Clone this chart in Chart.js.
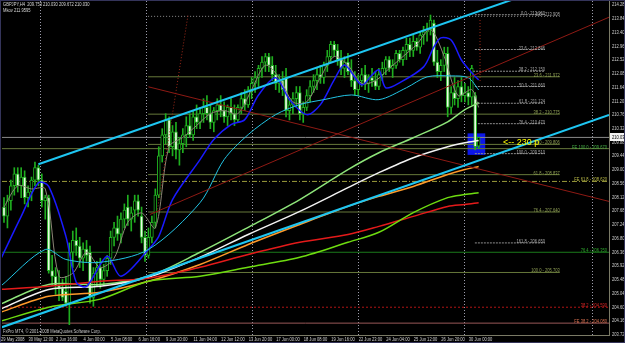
<!DOCTYPE html>
<html>
<head>
<meta charset="utf-8">
<title>GBPJPY,H4</title>
<script src="https://cdn.jsdelivr.net/npm/chart.js@4.4.1/dist/chart.umd.min.js"></script>
<style>
  html, body { margin: 0; padding: 0; background: #000; overflow: hidden; }
  canvas { display: block; }
</style>
</head>
<body>
<canvas id="chart" width="625" height="343"></canvas>
<script>
// H4 candles, bar 0 = 29 May 2008
const opens = [
  207.80, 207.51, 208.00, 208.48, 208.86, 208.48, 208.76, 208.10, 208.28, 208.66,
  209.06, 208.66, 208.00, 208.10, 205.76, 205.58, 205.28, 205.20, 205.10, 204.72,
  206.35, 206.73, 206.55, 206.16, 206.45, 206.35, 204.90, 205.68, 205.86, 205.48,
  205.76, 206.16, 206.83, 207.13, 206.93, 207.41, 207.80, 207.41, 207.70, 208.00,
  207.51, 206.83, 206.25, 206.83, 207.31, 208.18, 209.44, 210.11, 210.59, 209.73,
  210.21, 209.63, 209.83, 210.11, 210.41, 210.11, 210.69, 210.51, 210.79, 210.99,
  210.79, 210.51, 210.89, 211.07, 210.89, 210.69, 210.99, 210.79, 210.59, 210.99,
  211.27, 211.07, 211.56, 211.76, 211.95, 212.24, 212.44, 212.62, 212.34, 212.04,
  211.76, 211.85, 211.95, 210.89, 211.07, 211.27, 211.47, 210.79, 210.99, 211.37,
  211.66, 211.85, 212.04, 211.95, 212.34, 212.62, 213.01, 212.82, 212.52, 212.24,
  212.44, 212.14, 211.85, 211.56, 211.85, 212.04, 211.76, 211.95, 211.85, 211.66,
  212.04, 212.24, 212.52, 212.24, 212.34, 212.72, 212.52, 212.82, 213.01, 212.82,
  213.11, 212.92, 213.31, 213.41, 213.49, 213.69, 212.44, 212.14, 212.34, 212.72,
  210.99, 211.47, 211.27, 211.66, 211.37, 211.47, 211.32, 211.37, 209.753
];
const highs = [
  208.10, 208.18, 208.66, 209.06, 209.06, 209.06, 208.96, 208.48, 208.76, 209.24,
  209.14, 208.86, 208.18, 208.18, 206.25, 205.86, 205.76, 205.48, 205.58, 206.65,
  207.03, 207.13, 206.83, 206.65, 206.73, 206.55, 205.86, 206.06, 206.16, 205.96,
  206.25, 207.03, 207.31, 207.51, 207.61, 207.90, 208.18, 207.80, 208.18, 208.18,
  207.80, 207.03, 207.13, 207.51, 208.38, 209.73, 210.31, 210.79, 210.69, 210.41,
  210.51, 210.03, 210.31, 210.69, 210.79, 210.89, 211.07, 210.99, 211.27, 211.37,
  211.07, 210.99, 211.27, 211.37, 211.17, 211.07, 211.27, 211.07, 211.07, 211.47,
  211.56, 211.66, 211.95, 212.14, 212.34, 212.62, 212.72, 212.72, 212.62, 212.34,
  212.04, 212.14, 212.24, 211.27, 211.47, 211.66, 211.66, 211.17, 211.56, 211.85,
  212.04, 212.24, 212.34, 212.44, 212.82, 213.11, 213.11, 213.01, 212.82, 212.62,
  212.72, 212.52, 212.14, 212.04, 212.24, 212.34, 212.04, 212.24, 212.14, 212.24,
  212.44, 212.62, 212.62, 212.52, 212.82, 212.82, 212.92, 213.21, 213.21, 213.31,
  213.21, 213.41, 213.59, 213.69, 213.95, 213.79, 212.82, 212.52, 212.92, 212.92,
  211.66, 211.95, 211.85, 211.95, 211.76, 211.66, 212.34, 211.47, 210.030
];
const lows = [
  207.31, 207.13, 207.70, 208.18, 208.28, 208.10, 207.90, 207.80, 208.00, 208.48,
  208.48, 207.80, 207.41, 205.68, 205.28, 205.00, 204.80, 204.80, 204.62, 204.03,
  205.86, 206.25, 205.86, 205.76, 206.06, 204.72, 204.62, 205.28, 205.20, 205.28,
  205.58, 205.96, 206.55, 206.73, 206.65, 207.13, 207.21, 207.03, 207.31, 207.51,
  206.65, 206.06, 206.16, 206.65, 207.13, 208.10, 209.24, 209.83, 209.54, 209.44,
  209.34, 209.14, 209.54, 209.73, 210.03, 209.93, 210.31, 210.31, 210.51, 210.59,
  210.31, 210.21, 210.59, 210.69, 210.51, 210.41, 210.59, 210.41, 210.51, 210.79,
  210.89, 210.99, 211.27, 211.47, 211.66, 211.95, 212.14, 212.14, 211.85, 211.56,
  211.47, 211.37, 210.69, 210.59, 210.79, 210.99, 210.59, 210.51, 210.89, 211.17,
  211.47, 211.56, 211.76, 211.76, 212.14, 212.44, 212.62, 212.34, 212.04, 211.95,
  212.04, 211.66, 211.37, 211.37, 211.66, 211.56, 211.47, 211.66, 211.56, 211.56,
  211.85, 212.04, 212.14, 211.95, 212.24, 212.44, 212.34, 212.52, 212.62, 212.62,
  212.82, 212.72, 213.01, 213.11, 213.31, 212.34, 211.95, 211.85, 212.14, 210.69,
  210.79, 211.07, 210.99, 211.17, 211.17, 211.07, 211.07, 209.63, 209.672
];
const closes = [
  207.51, 208.00, 208.48, 208.86, 208.48, 208.76, 208.10, 208.28, 208.66, 209.06,
  208.66, 208.00, 208.10, 205.76, 205.58, 205.28, 205.20, 204.90, 204.72, 206.35,
  206.73, 206.55, 206.16, 206.45, 206.25, 204.90, 205.68, 205.86, 205.48, 205.76,
  206.16, 206.83, 207.13, 206.93, 207.41, 207.70, 207.41, 207.61, 208.00, 207.70,
  206.83, 206.25, 206.83, 207.31, 208.18, 209.44, 210.11, 210.59, 209.73, 210.21,
  209.63, 209.83, 210.11, 210.41, 210.11, 210.69, 210.51, 210.79, 210.99, 210.79,
  210.51, 210.89, 211.07, 210.89, 210.69, 210.99, 210.79, 210.59, 210.99, 211.27,
  211.07, 211.56, 211.76, 211.95, 212.24, 212.44, 212.62, 212.34, 212.04, 211.76,
  211.85, 211.56, 210.89, 211.07, 211.27, 211.47, 210.79, 210.99, 211.37, 211.66,
  211.85, 212.04, 211.95, 212.34, 212.62, 213.01, 212.82, 212.52, 212.24, 212.44,
  212.14, 211.85, 211.56, 211.85, 212.04, 211.76, 211.95, 211.85, 211.66, 212.04,
  212.24, 212.52, 212.24, 212.34, 212.72, 212.52, 212.82, 213.01, 212.82, 213.11,
  212.92, 213.31, 213.41, 213.49, 213.79, 212.44, 212.14, 212.34, 212.72, 210.99,
  211.47, 211.27, 211.66, 211.37, 211.47, 211.32, 212.24, 209.73, 210.030
];

// time axis labels, one every 8 bars
const timeLabels = ["29 May 2008", "30 May 12:00", "2 Jun 16:00", "4 Jun 00:00", "5 Jun 08:00",
  "6 Jun 16:00", "9 Jun 20:00", "11 Jun 04:00", "12 Jun 12:00", "13 Jun 20:00", "17 Jun 00:00",
  "18 Jun 08:00", "19 Jun 16:00", "22 Jun 23:00", "24 Jun 04:00", "25 Jun 12:00",
  "26 Jun 20:00", "30 Jun 00:00"];
const priceTicks = [214.28, 213.84, 213.40, 212.96, 212.52, 212.08, 211.64, 211.20, 210.76,
  210.32, 209.88, 209.44, 209.00, 208.56, 208.12, 207.68, 207.24, 206.80, 206.36, 205.92,
  205.48, 205.04, 204.60, 204.16, 203.72];

// moving averages (sampled at bar positions)
const slowBars = [-1, 13, 28, 42, 57, 71, 86, 100, 109, 119, 129, 134, 138];
const maWhite = [204.53, 205.16, 205.26, 205.55, 206.19, 206.92, 207.66, 208.42, 208.90, 209.38, 209.73, 209.86, 209.93];
const maLight = [204.69, 205.32, 205.32, 205.58, 206.35, 207.15, 208.04, 209.00, 209.54, 210.02, 210.53, 210.92, 211.14];
const maRed = [205.16, 205.26, 205.42, 205.52, 205.87, 206.28, 206.67, 206.92, 207.18, 207.50, 207.82, 207.88, 207.94];
const maOrange = [204.43, 204.94, 205.07, 205.42, 205.96, 206.60, 207.24, 207.82, 208.14, 208.46, 208.84, 209.00, 209.10];
const maGreen = [204.14, 204.59, 204.85, 205.42, 205.58, 205.87, 206.19, 206.67, 206.99, 207.62, 208.10, 208.20, 208.26];

const cyanBars = [-1, 12, 18, 28, 42, 57, 64, 71, 79, 86, 93, 101, 109, 117, 123, 130, 135, 138];
const maCyan = [205.26, 206.44, 206.12, 206.03, 206.44, 207.94, 209.32, 210.12, 210.76, 211.08, 211.24, 211.39, 211.24, 211.62, 211.97, 212.00, 211.94, 211.55];

const blueBars = [-1, 5, 10, 13, 18, 21, 24, 30, 34, 42, 45, 49, 57, 61, 66, 70, 74, 79, 83, 88, 92, 96, 99, 104, 107, 109, 111, 115, 122, 125, 127, 130, 133, 136, 138];
const maBlue = [206.12, 207.50, 208.58, 208.46, 206.86, 205.39, 205.26, 206.22, 205.58, 206.44, 206.86, 208.04, 209.32, 209.96, 210.44, 210.60, 211.39, 211.94, 211.24, 210.76, 211.08, 211.87, 212.35, 211.71, 212.03, 212.19, 211.62, 211.78, 212.29, 212.93, 213.22, 213.15, 212.51, 212.10, 211.87];

const grayBars = [0, 4, 8, 12, 16, 20, 24, 28, 32, 36, 40, 44, 48, 52, 56, 60, 64, 68, 72, 76, 80, 84, 88, 92, 96, 100, 104, 108, 112, 116, 120, 124, 128, 132, 136, 138];
const maGray = [207.80, 208.48, 208.38, 208.38, 205.58, 205.68, 206.35, 205.86, 206.16, 207.31, 207.61, 207.13, 209.73, 210.03, 210.41, 210.79, 210.89, 210.79, 211.56, 212.34, 211.95, 211.17, 211.17, 211.95, 212.62, 212.34, 211.76, 211.85, 212.24, 212.62, 213.01, 213.49, 212.62, 211.37, 211.56, 210.99];

// drawn objects: [bar, price] end points
const channelTop = [[10, 209.17], [148.5, 214.47]];
const channelBottom = [[-0.6, 203.95], [175.9, 210.75]];
const redFall = [[42, 211.65], [175.9, 207.98]];
const redRise = [[42.4, 207.56], [175.9, 213.88]];
const redSteep = [[44.5, 207.63], [53.5, 213.95]];
const redVertical = [[138.4, 213.79], [138.4, 211.78]];

// fibonacci retracements
const shortFibLevels = ["0.0", "23.6", "38.2", "50.0", "61.8", "76.4", "100.0", "161.8"];
const shortFibPrices = [213.960, 212.846, 212.150, 211.660, 211.124, 210.470, 209.510, 206.650];
const shortFibFrom = 136.9, shortFibTo = 157.3;
const longFibLevels = ["0.0", "23.6", "38.2", "50.0", "61.8", "76.4", "100.0"];
const longFibPrices = [213.908, 211.972, 210.775, 209.806, 208.837, 207.640, 205.703];
const longFibFrom = 41.9, longFibTo = 161.6;

// full width levels
const levelPrices = [210.030, 209.670, 208.620, 206.350, 204.590, 204.080];
const levelNames = ["", "FE 100.0", "FE 61.8", "76.4", "38.2", "FE 38.2"];

// highlighted zone and note
const boxBar = 137.35, boxLow = 209.48, boxHigh = 210.15;
const noteBar = 145.1, notePrice = 209.86, noteText = "<-- 230 p";

const gridBars = [10.5, 41.3, 72.1, 102.9, 133.7, 170.9];
const xMin = -0.58, xMax = 175.9;

const FONT = '"Liberation Sans", Arial, sans-serif';
const CANDLE_GREEN = '#1fae1f';

function pts(list) {
  return list.map(p => ({ x: p[0], y: p[1] }));
}

function lineSet(points, color, width, dash, order, tension) {
  return {
    type: 'line', data: points, borderColor: color, borderWidth: width,
    borderDash: dash || [], pointRadius: 0, fill: false, order: order,
    tension: tension || 0
  };
}

function maSet(bars, vals, color, width, order) {
  return lineSet(bars.map((b, k) => ({ x: b, y: vals[k] })), color, width, [], order, 0.3);
}

function smallText(ctx, str, x, y, color, opts) {
  const o = Object.assign({ size: 6, squeeze: 0.68, align: 'left', baseline: 'middle' }, opts);
  ctx.save();
  ctx.font = o.size + 'px ' + FONT;
  ctx.fillStyle = color;
  ctx.textAlign = o.align;
  ctx.textBaseline = o.baseline;
  ctx.translate(x, y);
  ctx.scale(o.squeeze, 1);
  ctx.fillText(str, 0, 0);
  ctx.restore();
}

const idx = opens.map((_, i) => i);
const datasets = [];

// background zone
datasets.push({
  type: 'bar', data: [{ x: boxBar, y: [boxLow, boxHigh] }], backgroundColor: '#0c16e8',
  barThickness: 17, grouped: false, order: 9
});

// fib lines
longFibPrices.forEach((p, k) => {
  datasets.push(lineSet(pts([[longFibFrom, p], [longFibTo, p]]),
    k === 0 ? '#8c8c8c' : '#66783a', 1, k === 0 ? [1, 2] : [], 8));
});
shortFibPrices.forEach((p, k) => {
  const from = k === 2 ? 135.5 : shortFibFrom;
  datasets.push(lineSet(pts([[from, p], [shortFibTo, p]]), '#8e8e8e', 1, [2, 1], 8));
});
const levelColors = ['#8a8a8a', '#66783a', '#9a9a3a', '#1b7a1b', '#b01414', '#9a5858'];
const levelDash = [[], [], [5, 2, 1, 2], [], [2, 2], []];
levelPrices.forEach((p, k) => {
  datasets.push(lineSet(pts([[xMin, p], [xMax, p]]), levelColors[k], 1, levelDash[k], 8));
});

// candles
datasets.push({
  type: 'bar', data: idx.map(i => ({ x: i, y: [lows[i], highs[i]] })),
  backgroundColor: CANDLE_GREEN, barThickness: 1, grouped: false, order: 6
});
datasets.push({
  type: 'bar', data: idx.map(i => ({ x: i, y: [opens[i], closes[i]] })),
  backgroundColor: idx.map(i => closes[i] < opens[i] ? '#eafbe4' : '#000000'),
  borderColor: CANDLE_GREEN, borderWidth: 1, borderSkipped: false,
  barThickness: 3, minBarLength: 1, grouped: false, order: 5
});

// indicators
datasets.push(maSet(slowBars, maGreen, '#6edc10', 1.5, 3));
datasets.push(maSet(slowBars, maRed, '#e41a1a', 1.5, 3));
datasets.push(maSet(slowBars, maOrange, '#ff9a2a', 1.5, 3));
datasets.push(maSet(slowBars, maWhite, '#f2f2f2', 1.5, 3));
datasets.push(maSet(slowBars, maLight, '#8ee57a', 1.5, 3));
datasets.push(maSet(cyanBars, maCyan, '#22c4e4', 1, 2));
datasets.push(maSet(blueBars, maBlue, '#1a1aff', 1.5, 2));
datasets.push(maSet(grayBars, maGray, '#8c8676', 1, 2));

// trend lines
datasets.push(lineSet(pts(channelTop), '#1ec6f2', 2, [], 1));
datasets.push(lineSet(pts(channelBottom), '#1ec6f2', 2, [], 1));
datasets.push(lineSet(pts(redFall), '#8e1a14', 1, [], 1));
datasets.push(lineSet(pts(redRise), '#8e1a14', 1, [], 1));
datasets.push(lineSet(pts(redSteep), '#a02a1a', 1, [1, 2], 1));
datasets.push(lineSet(pts(redVertical), '#a02a1a', 1, [1, 2], 1));

const mtPlugin = {
  id: 'mt4',
  beforeDraw(chart) {
    const c = chart.ctx;
    c.save();
    c.fillStyle = '#000000';
    c.fillRect(0, 0, chart.width, chart.height);
    c.restore();
  },
  beforeDatasetsDraw(chart) {
    const { ctx, chartArea: a, scales: { x } } = chart;
    ctx.save();
    ctx.strokeStyle = '#9c9cab';
    ctx.lineWidth = 1;
    ctx.setLineDash([1, 2]);
    gridBars.forEach(b => {
      const px = Math.round(x.getPixelForValue(b)) + 0.5;
      ctx.beginPath();
      ctx.moveTo(px, a.top);
      ctx.lineTo(px, a.bottom);
      ctx.stroke();
    });
    ctx.restore();
  },
  afterDatasetsDraw(chart) {
    const { ctx, chartArea: a, scales: { x, y } } = chart;
    longFibLevels.forEach((lv, k) => {
      smallText(ctx, lv + ' - ' + longFibPrices[k].toFixed(3), x.getPixelForValue(longFibTo),
        y.getPixelForValue(longFibPrices[k]), k === 0 ? '#a8a8a8' : '#8f9f55',
        { align: 'right', baseline: 'alphabetic' });
    });
    shortFibLevels.forEach((lv, k) => {
      smallText(ctx, lv + ' - ' + shortFibPrices[k].toFixed(3), x.getPixelForValue(shortFibTo),
        y.getPixelForValue(shortFibPrices[k]), '#a8a8a8', { align: 'right', baseline: 'alphabetic' });
    });
    const levelText = ['', '#46b046', '#bcbc48', '#2ea52e', '#d82424', '#d87050'];
    levelNames.forEach((nm, k) => {
      if (!nm) return;
      smallText(ctx, nm + ' - ' + levelPrices[k].toFixed(3), a.right - 2,
        y.getPixelForValue(levelPrices[k]), levelText[k], { align: 'right', baseline: 'alphabetic' });
    });
    smallText(ctx, noteText, x.getPixelForValue(noteBar), y.getPixelForValue(notePrice), '#ffff00',
      { size: 9, squeeze: 1 });

    smallText(ctx, 'GBPJPY,H4  209.753 210.030 209.672 210.030', 3, 4.5, '#d8d8d8');
    smallText(ctx, 'Mkov 211.9595', 3, 10, '#d8d8d8');
    smallText(ctx, 'FxPro MT4, \u00a9 2001-2008 MetaQuotes Software Corp.', 3, 331, '#c8c8c8');
  },
  afterDraw(chart) {
    const { ctx, chartArea: a, scales: { x, y } } = chart;
    priceTicks.forEach(v => {
      smallText(ctx, v.toFixed(3), a.right + 3, y.getPixelForValue(v), '#d0d0d0');
    });
    timeLabels.forEach((t, k) => {
      smallText(ctx, t, x.getPixelForValue(k * 8) - 3, 339.5, '#d0d0d0');
    });
    // current price tag
    const bid = levelPrices[0];
    const py = y.getPixelForValue(bid);
    ctx.save();
    ctx.fillStyle = '#f4f4f4';
    ctx.fillRect(a.right + 1, Math.round(py) - 4, chart.width - a.right - 1, 8);
    ctx.restore();
    smallText(ctx, bid.toFixed(3), a.right + 3, py, '#000000');
    // window frame
    ctx.save();
    ctx.strokeStyle = '#34345a';
    ctx.lineWidth = 1;
    ctx.strokeRect(0.5, 0.5, chart.width - 1, chart.height - 1);
    ctx.restore();
  }
};

new Chart(document.getElementById('chart').getContext('2d'), {
  type: 'bar',
  data: { datasets: datasets },
  options: {
    responsive: false,
    animation: false,
    events: [],
    layout: { padding: { left: 2, top: 1, right: 0, bottom: 0 } },
    plugins: { legend: { display: false }, tooltip: { enabled: false } },
    scales: {
      x: {
        type: 'linear', min: xMin, max: xMax, offset: false,
        grid: { display: false, offset: false },
        border: { display: true, color: '#7a7a66' },
        ticks: { display: false },
        afterBuildTicks: s => { s.ticks = timeLabels.map((_, k) => ({ value: k * 8 })); },
        afterFit: s => { s.height = 8; }
      },
      y: {
        type: 'linear', position: 'right', min: 203.70, max: 214.40,
        grid: { display: false },
        border: { display: true, color: '#7a7a66' },
        ticks: { display: false },
        afterBuildTicks: s => { s.ticks = priceTicks.map(v => ({ value: v })); },
        afterFit: s => { s.width = 16; }
      }
    }
  },
  plugins: [mtPlugin]
});
</script>
</body>
</html>
